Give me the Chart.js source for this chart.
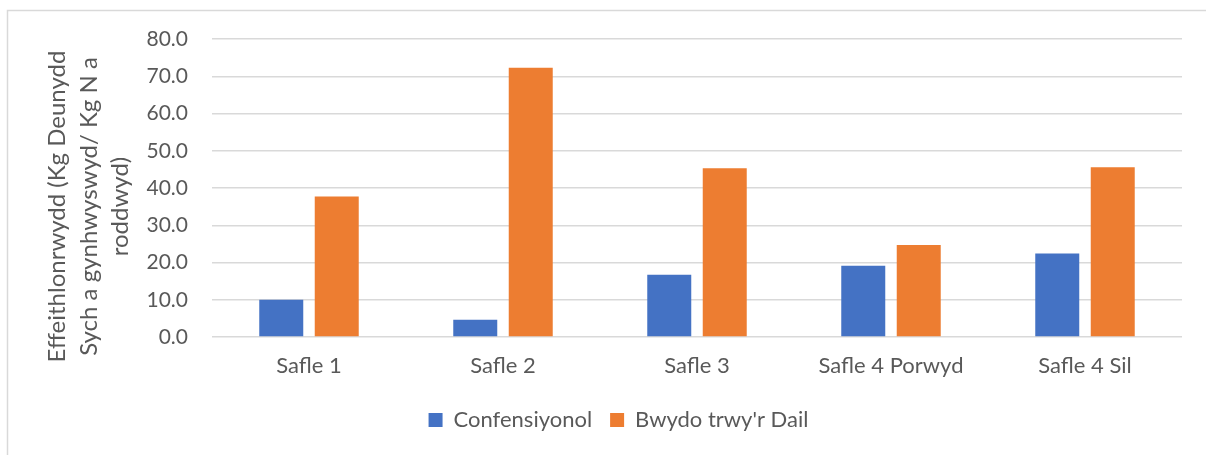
<!DOCTYPE html>
<html>
<head>
<meta charset="utf-8">
<script src="https://cdn.jsdelivr.net/npm/chart.js@4.4.1/dist/chart.umd.min.js"></script>
<style>
  html, body { margin: 0; padding: 0; background: #fff; }
  #wrap { width: 1206px; height: 455px; }
</style>
</head>
<body>
<div id="wrap"><canvas id="effChart" width="1206" height="455"></canvas></div>
<script>
var sites = ['Safle 1', 'Safle 2', 'Safle 3', 'Safle 4 Porwyd', 'Safle 4 Sil'];
var conventional = [10.0, 4.6, 16.7, 19.1, 22.4];
var foliarFeed = [37.7, 72.3, 45.3, 24.7, 45.6];
var seriesNames = ['Confensiyonol', "Bwydo trwy'r Dail"];
var yTitleLines = ['Effeithlonrwydd (Kg Deunydd', 'Sych a gynhwyswyd/ Kg N a', 'roddwyd)'];

var textGrey = '#595959';
var gridGrey = '#d9d9d9';
var fontFamily = 'Lato, "Open Sans", sans-serif';

// frame around the chart and the rotated y axis title
var chartFrame = {
  id: 'chartFrame',
  beforeDraw: function (chart) {
    var ctx = chart.ctx;
    ctx.save();
    ctx.strokeStyle = gridGrey;
    ctx.lineWidth = 1.5;
    ctx.strokeRect(7.5, 10.5, 1300, 500);
    ctx.restore();
  },
  afterDraw: function (chart) {
    var ctx = chart.ctx;
    var baselines = [65, 97, 128];
    ctx.save();
    ctx.fillStyle = textGrey;
    ctx.font = '24px ' + fontFamily;
    ctx.textAlign = 'center';
    ctx.textBaseline = 'alphabetic';
    yTitleLines.forEach(function (line, i) {
      ctx.save();
      ctx.translate(baselines[i], 206.5);
      ctx.rotate(-Math.PI / 2);
      ctx.fillText(line, 0, 0);
      ctx.restore();
    });
    ctx.restore();
  }
};

var ctx = document.getElementById('effChart').getContext('2d');
new Chart(ctx, {
  type: 'bar',
  data: {
    labels: sites,
    datasets: [
      {
        label: seriesNames[0],
        data: conventional,
        backgroundColor: '#4472c4',
        borderWidth: 0,
      },
      {
        label: seriesNames[1],
        data: foliarFeed,
        backgroundColor: '#ed7d31',
        borderWidth: 0,
      },
    ],
  },
  options: {
    responsive: false,
    animation: false,
    devicePixelRatio: 1,
    categoryPercentage: 0.572,
    barPercentage: 0.793,
    layout: {
      padding: { top: 39, right: 24, bottom: 14, left: 55 },
    },
    plugins: {
      tooltip: { enabled: false },
      legend: {
        position: 'bottom',
        labels: {
          color: textGrey,
          font: { family: fontFamily, size: 22 },
          boxWidth: 14,
          boxHeight: 14,
          padding: 18,
        },
      },
    },
    scales: {
      x: {
        grid: { display: false, drawTicks: false },
        border: { display: false },
        ticks: {
          color: textGrey,
          font: { family: fontFamily, size: 22 },
          padding: 16,
          maxRotation: 0,
        },
        afterFit: function (scale) {
          scale.height = 54;
        },
      },
      y: {
        min: 0,
        max: 80,
        grid: { color: gridGrey, lineWidth: 1.5, drawTicks: false },
        border: { display: false },
        ticks: {
          stepSize: 10,
          color: textGrey,
          font: { family: fontFamily, size: 21 },
          padding: 24,
          callback: function (value) {
            return value.toFixed(1);
          },
        },
        afterFit: function (scale) {
          scale.width = 157;
        },
      },
    },
  },
  plugins: [chartFrame],
});
</script>
</body>
</html>
